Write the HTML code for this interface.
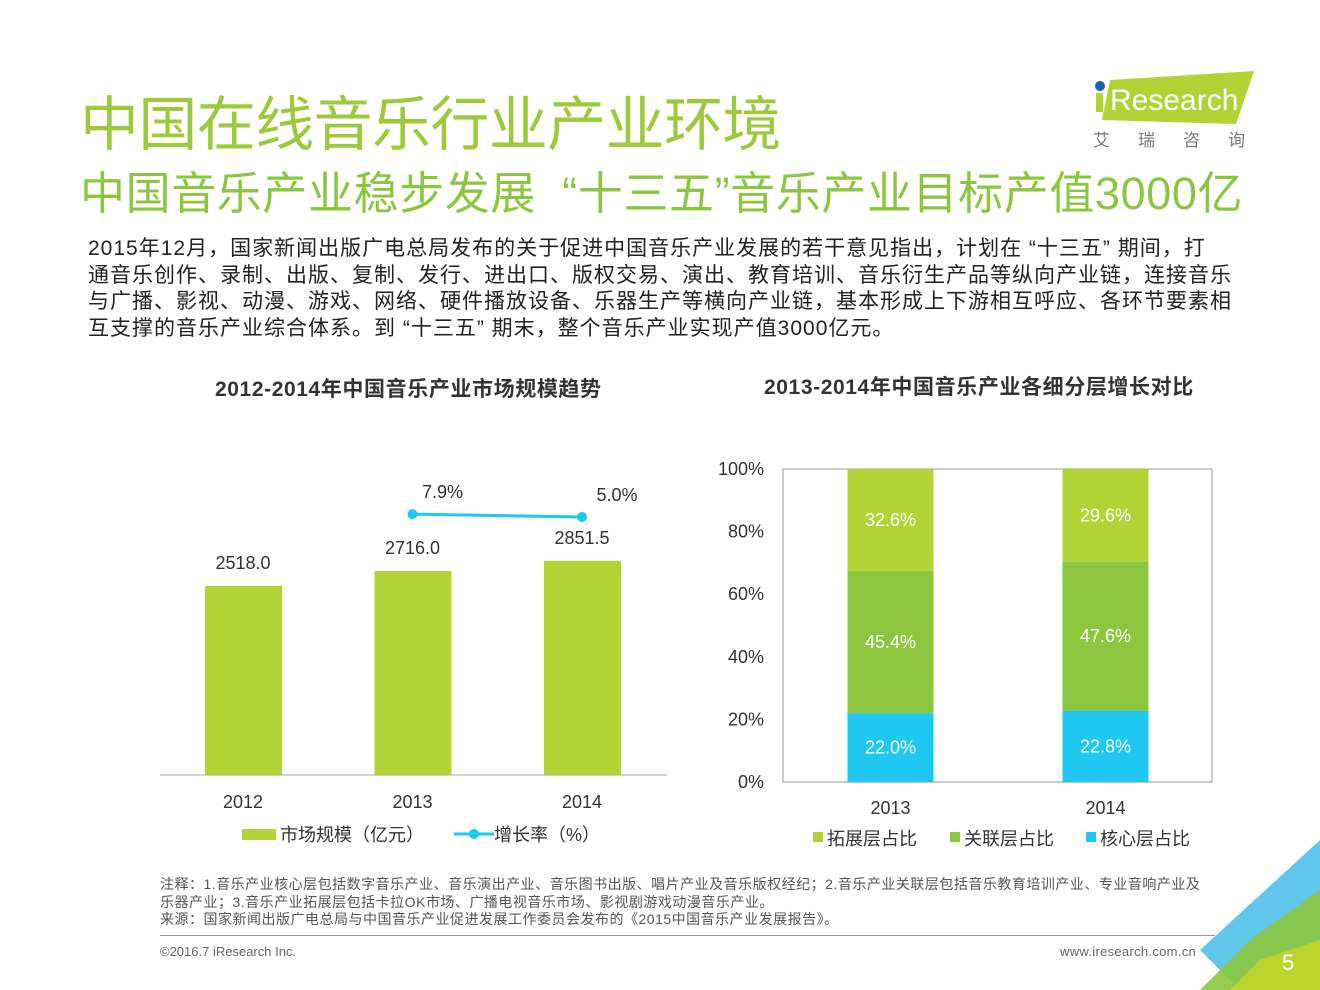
<!DOCTYPE html>
<html><head><meta charset="utf-8"><style>
body{margin:0;width:1320px;height:990px;background:#fff;position:relative;overflow:hidden;font-family:"Liberation Sans","Noto Sans CJK SC",sans-serif;}
.a{position:absolute;white-space:nowrap;}
</style></head><body>
<div class="a" style="left:80px;top:77px;font-size:59px;letter-spacing:-0.6px;color:#9dc93a;">中国在线音乐行业产业环境</div>
<div class="a" style="left:80px;top:157px;font-size:45px;letter-spacing:0.6px;color:#8cc63f;">中国音乐产业稳步发展&nbsp;&nbsp;“十三五”音乐产业目标产值3000亿</div>
<svg class="a" style="left:1088px;top:68px" width="175" height="90">
<polygon points="22,12 166,3 148,56 14,52" fill="#b2d235"/>
<circle cx="12" cy="18" r="5" fill="#1d5fa8"/>
<rect x="8" y="25" width="7" height="19" fill="#b2d235"/>
<text x="22" y="42" font-size="30" fill="#fff" font-family="Liberation Sans">Research</text>
<text x="5" y="78" font-size="17" fill="#777" letter-spacing="28">艾瑞咨询</text>
</svg>
<div class="a" style="left:88px;top:236px;font-size:21px;line-height:26.5px;color:#222;letter-spacing:1.0px;">2015年12月，国家新闻出版广电总局发布的关于促进中国音乐产业发展的若干意见指出，计划在 “十三五” 期间，打<br>通音乐创作、录制、出版、复制、发行、进出口、版权交易、演出、教育培训、音乐衍生产品等纵向产业链，连接音乐<br>与广播、影视、动漫、游戏、网络、硬件播放设备、乐器生产等横向产业链，基本形成上下游相互呼应、各环节要素相<br>互支撑的音乐产业综合体系。到 “十三五” 期末，整个音乐产业实现产值3000亿元。</div>
<div class="a" style="left:215px;top:373px;font-size:21px;font-weight:bold;color:#333;letter-spacing:0.6px;">2012-2014年中国音乐产业市场规模趋势</div>
<div class="a" style="left:764px;top:371px;font-size:21px;font-weight:bold;color:#333;letter-spacing:0.6px;">2013-2014年中国音乐产业各细分层增长对比</div>
<svg id="c1" class="a" style="left:0;top:0" width="700" height="860"></svg>
<svg id="c2" class="a" style="left:700px;top:0" width="620" height="860"></svg>
<div class="a" style="left:160px;top:876px;font-size:14px;letter-spacing:0.5px;line-height:17.5px;color:#555;">注释：1.音乐产业核心层包括数字音乐产业、音乐演出产业、音乐图书出版、唱片产业及音乐版权经纪；2.音乐产业关联层包括音乐教育培训产业、专业音响产业及<br>乐器产业；3.音乐产业拓展层包括卡拉OK市场、广播电视音乐市场、影视剧游戏动漫音乐产业。<br>来源：国家新闻出版广电总局与中国音乐产业促进发展工作委员会发布的《2015中国音乐产业发展报告》。</div>
<div class="a" style="left:160px;top:935px;width:1055px;height:1px;background:#999;"></div>
<div class="a" style="left:160px;top:944px;font-size:13px;color:#666;">©2016.7 iResearch Inc.</div>
<div class="a" style="left:1060px;top:944px;font-size:13px;color:#666;letter-spacing:0.3px;">www.iresearch.com.cn</div>
<svg class="a" style="left:1200px;top:840px" width="120" height="150">
<polygon points="120,0 120,150 40,150 0,110" fill="#4fc1e9" opacity="0.9"/>
<polygon points="120,50 120,150 0,150 50,100" fill="#8cc63f" opacity="0.9"/>
<polygon points="120,100 120,150 30,150 60,120" fill="#c2d62a" opacity="0.9"/>
<text x="82" y="130" font-size="22" fill="#fff">5</text>
</svg>
<script>
const years1=["2012","2013","2014"];
const market=[2518.0,2716.0,2851.5];
const growthYears=["2013","2014"];
const growth=[7.9,5.0];
const years2=["2013","2014"];
const core=[22.0,22.8];
const related=[45.4,47.6];
const ext=[32.6,29.6];
const pctTicks=[0,20,40,60,80,100];
const NS="http://www.w3.org/2000/svg";
function mk(svg,t,a,txt){const e=document.createElementNS(NS,t);for(const k in a)e.setAttribute(k,a[k]);if(txt!==undefined)e.textContent=txt;svg.appendChild(e);return e;}
const c1=document.getElementById('c1');
const bx=i=>243+i*169.5, by=v=>775-v*0.0751, ly=r=>522-r*1.0;
let ax=mk(c1,'line',{x1:160,x2:667,y1:775,y2:775,stroke:'#aaa'});

market.forEach((v,i)=>{
 let r=mk(c1,'rect',{x:bx(i)-38,y:by(v),width:77,height:775-by(v),fill:'#b2d235'});
 
 let t=mk(c1,'text',{x:bx(i),y:by(v)-17,'text-anchor':'middle','font-size':18,fill:'#333'},v.toFixed(1));
 
 let x=mk(c1,'text',{x:bx(i),y:808,'text-anchor':'middle','font-size':18,fill:'#333'},years1[i]);
 
});
const gx=g=>bx(years1.indexOf(g));
let pts=growth.map((r,i)=>gx(growthYears[i])+','+ly(r)).join(' ');
let pl=mk(c1,'polyline',{points:pts,fill:'none',stroke:'#1ec8f0','stroke-width':3});

growth.forEach((r,i)=>{
 let c=mk(c1,'circle',{cx:gx(growthYears[i]),cy:ly(r),r:5,fill:'#1ec8f0'});
 
 let t=mk(c1,'text',{x:gx(growthYears[i])+(i?35:30),y:ly(r)-16,'text-anchor':'middle','font-size':18,fill:'#333'},r.toFixed(1)+'%');
 
});
let l1=mk(c1,'rect',{x:242,y:829,width:34,height:11,fill:'#b2d235'});

let l1t=mk(c1,'text',{x:280,y:841,'font-size':18,fill:'#333'},'市场规模（亿元）');

let l2=mk(c1,'line',{x1:454,x2:494,y1:834,y2:834,stroke:'#1ec8f0','stroke-width':3});

mk(c1,'circle',{cx:474,cy:834,r:5,fill:'#1ec8f0'});
let l2t=mk(c1,'text',{x:494,y:841,'font-size':18,fill:'#333'},'增长率（%）');


const c2=document.getElementById('c2');
const py=p=>782-p*3.13, cx2=i=>190.5+i*215;
let fr=mk(c2,'rect',{x:83,y:469,width:429,height:313,fill:'none',stroke:'#999'});

pctTicks.forEach(p=>{
 let t=mk(c2,'text',{x:64,y:py(p)+6,'text-anchor':'end','font-size':18,fill:'#333'},p+'%');
 
});
const series=[[core,'#1ec8f0','core'],[related,'#8cc63f','related'],[ext,'#b2d235','extension']];
years2.forEach((y,i)=>{
 let base=0;
 series.forEach(([arr,col,nm])=>{
  const v=arr[i];
  let r=mk(c2,'rect',{x:cx2(i)-43,y:py(base+v),width:86,height:v*3.13,fill:col});
  
  let t=mk(c2,'text',{x:cx2(i),y:py(base+v/2)+6,'text-anchor':'middle','font-size':18,fill:'#fff'},v.toFixed(1)+'%');
  
  base+=v;
 });
 let x=mk(c2,'text',{x:cx2(i),y:814,'text-anchor':'middle','font-size':18,fill:'#333'},y);
 
});
[['#b2d235','拓展层占比',113],['#8cc63f','关联层占比',250],['#1ec8f0','核心层占比',386]].forEach(([c,t,x])=>{
 let s=mk(c2,'rect',{x:x,y:832,width:10,height:10,fill:c});
 
 let tt=mk(c2,'text',{x:x+14,y:845,'font-size':18,fill:'#333'},t);
 
});
</script>
</body></html>
